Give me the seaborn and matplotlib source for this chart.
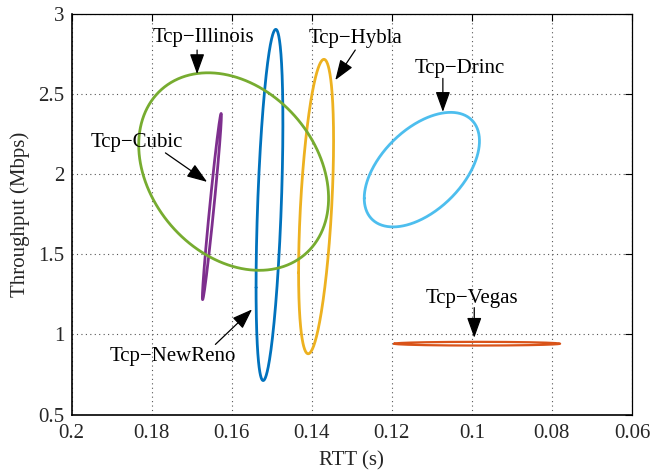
import numpy as np
import pandas as pd
import matplotlib
matplotlib.use("Agg")
import matplotlib.pyplot as plt
import seaborn as sns

# ---- data: ellipse parameters per TCP variant (RTT in s, throughput in Mbps)
variants = ["Tcp-NewReno", "Tcp-Vegas", "Tcp-Hybla", "Tcp-Cubic", "Tcp-Illinois", "Tcp-Drinc"]
rtt_center = [0.15055, 0.09868, 0.13891, 0.16494, 0.15950, 0.11249]
rtt_halfwidth = [0.00335, 0.02072, 0.00437, 0.00237, 0.02371, 0.01439]
thr_center = [1.808, 0.942, 1.798, 1.798, 2.0165, 2.0285]
thr_halfheight = [1.096, 0.0115, 0.919, 0.581, 0.6165, 0.3575]
corr = [-0.47, 0.0, -0.45, -0.975, 0.27, -0.5]
colors = ["#0072BD", "#D95319", "#EDB120", "#7E2F8E", "#77AC30", "#4DBEEE"]

# labels: text position and arrow (tail -> head) in data coords
label_text = ["Tcp\u2212NewReno", "Tcp\u2212Vegas", "Tcp\u2212Hybla", "Tcp\u2212Cubic", "Tcp\u2212Illinois", "Tcp\u2212Drinc"]
label_xy = [(0.1748, 0.8625), (0.1000, 1.223), (0.1290, 2.85), (0.18365, 2.196), (0.16706, 2.854), (0.10292, 2.6625)]
arrow_tail = [(0.16406, 0.9375), (0.0994, 1.167), (0.12912, 2.775), (0.17654, 2.133), (0.16863, 2.775), (0.10724, 2.598)]
arrow_head = [(0.15490, 1.156), (0.0994, 0.979), (0.13411, 2.5875), (0.16613, 1.952), (0.16863, 2.625), (0.10724, 2.389)]

x_ticks = [0.2, 0.18, 0.16, 0.14, 0.12, 0.1, 0.08, 0.06]
x_ticklabels = ["0.2", "0.18", "0.16", "0.14", "0.12", "0.1", "0.08", "0.06"]
y_ticks = [0.5, 1, 1.5, 2, 2.5, 3]
y_ticklabels = ["0.5", "1", "1.5", "2", "2.5", "3"]

# ---- build ellipse outlines from parameters
t = np.linspace(0, 2 * np.pi, 400)
frames = []
for name, cx, a, cy, b, r in zip(variants, rtt_center, rtt_halfwidth, thr_center, thr_halfheight, corr):
    xs = cx + a * np.cos(t)
    ys = cy + b * (r * np.cos(t) + np.sqrt(1 - r * r) * np.sin(t))
    frames.append(pd.DataFrame({"rtt": xs, "thr": ys, "variant": name}))
df = pd.concat(frames, ignore_index=True)

sns.set_theme(style="white")
plt.rcParams["font.family"] = ["Liberation Serif", "DejaVu Serif"]

FS = 15

fig = plt.figure(figsize=(6.53, 4.72), dpi=100)
ax = fig.add_axes([71.5 / 653, 1 - 414.5 / 472, (632 - 71.5) / 653, (414.5 - 14) / 472])

for name, col in zip(variants, colors):
    sub = df[df["variant"] == name]
    lw = 1.6 if name == "Tcp-Vegas" else 2.0
    sns.lineplot(data=sub, x="rtt", y="thr", sort=False, estimator=None, color=col,
                 linewidth=lw, ax=ax, legend=False)

for txt, xy, tail, head in zip(label_text, label_xy, arrow_tail, arrow_head):
    ax.text(xy[0], xy[1], txt, ha="center", va="center", fontsize=FS, color="black")
    ax.annotate("", xy=head, xytext=tail,
                arrowprops=dict(arrowstyle="-|>,head_length=1.25,head_width=0.45",
                                mutation_scale=10, color="black", lw=0.9,
                                shrinkA=0, shrinkB=0))

ax.set_xlim(0.2, 0.06)
ax.set_ylim(0.5, 3)
ax.set_xticks(x_ticks)
ax.set_xticklabels(x_ticklabels)
ax.set_yticks(y_ticks)
ax.set_yticklabels(y_ticklabels)
ax.set_xlabel("RTT (s)", fontsize=FS, labelpad=6)
ax.set_ylabel("Throughput (Mbps)", fontsize=FS, labelpad=6)
ax.tick_params(axis="both", direction="in", length=5, width=0.8, labelsize=FS,
               top=True, right=True, color="black")
ax.tick_params(axis="x", pad=7)
ax.tick_params(axis="y", pad=5)
ax.grid(True, linestyle=(0, (1, 3)), color="#555555", linewidth=0.8)
for s in ax.spines.values():
    s.set_color("black")
    s.set_linewidth(0.9)
ax.spines["left"].set_linewidth(1.2)
ax.spines["bottom"].set_linewidth(1.2)

fig.savefig("out.png", dpi=100, facecolor="white")
